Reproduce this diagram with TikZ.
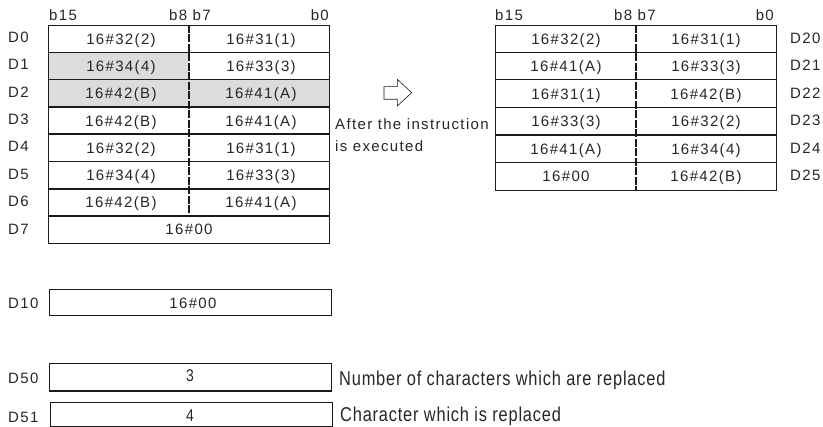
\documentclass[tikz,border=0pt]{standalone}
\usepackage{fontspec}
\setmainfont{Liberation Sans}[LetterSpace=9]
\newfontfamily\narrowfont{Liberation Sans}[FakeStretch=0.82,LetterSpace=4]
\definecolor{txt}{HTML}{262626}
\definecolor{ln}{HTML}{1A1A1A}
\definecolor{cellgray}{HTML}{DCDCDC}
\begin{document}
\begin{tikzpicture}[x=1pt,y=-1pt,
  frame/.style={draw=ln,line width=0.8pt},
  sep/.style={draw=ln,line width=1.5pt},
  divider/.style={draw=ln,line width=1.6pt,dash pattern=on 8pt off 1.5pt},
  celltxt/.style={font=\fontsize{15}{17}\selectfont,text=txt,inner sep=0pt,anchor=base},
  lab/.style={font=\fontsize{15}{17}\selectfont,text=txt,inner sep=0pt,anchor=base west},
  narrowlab/.style={font=\narrowfont\fontsize{20}{22}\selectfont,text=txt,inner sep=0pt,anchor=base west},
  narrowtxt/.style={font=\narrowfont\fontsize{17}{19}\selectfont,text=txt,inner sep=0pt,anchor=base},
  hollow/.style={draw=ln,line width=0.6pt,fill=white,line join=miter}]
\useasboundingbox (0,0) rectangle (823,427);
% ---------- left table ----------
\fill[cellgray] (48.5,52.3) rectangle (189,79.6);
\fill[cellgray] (48.5,79.6) rectangle (329.5,106.9);
\foreach \y in {52.3,79.6,106.9,134.2,161.5,188.8,216.1}
  \draw[sep] (48.5,\y) -- (329.5,\y);
\draw[frame] (48.5,25) rectangle (329.5,243.4);
\draw[divider] (189,25) -- (189,216.1);
\node[lab] (b15L) at (49,21) {b15};
\node[celltxt] (b87L) at (190,21) {b8 b7};
\node[celltxt,anchor=base east] (b0L) at (329,21) {b0};
\foreach \i/\l/\r [count=\k from 0] in {0/16\#32(2)/16\#31(1),1/16\#34(4)/16\#33(3),2/16\#42(B)/16\#41(A),3/16\#42(B)/16\#41(A),4/16\#32(2)/16\#31(1),5/16\#34(4)/16\#33(3),6/16\#42(B)/16\#41(A)}{
  \pgfmathsetmacro{\yc}{25+27.3*\k+13.65+5.5}
  \node[lab] (LD\i) at (8,\yc-1.5) {D\i};
  \node[celltxt] (LL\i) at (121,\yc) {\l};
  \node[celltxt] (LR\i) at (261,\yc) {\r};
}
\node[lab] (LD7) at (8,235) {D7};
\node[celltxt] (LC7) at (189,235) {16\#00};
% ---------- arrow & caption ----------
\draw[hollow] (384,86.7) -- (397.3,86.7) -- (397.3,79.3) -- (411.7,92.7) -- (397.3,106) -- (397.3,99.3) -- (384,99.3) -- cycle;
\node[lab] (cap1) at (335,129.5) {After the instruction};
\node[lab] (cap2) at (335,151.5) {is executed};
% ---------- right table ----------
\foreach \y in {52.7,79.6,107.3,135,162.7}
  \draw[sep] (495,\y) -- (776.7,\y);
\draw[frame] (495,25) rectangle (776.7,190);
\draw[divider] (635.7,25) -- (635.7,190);
\node[lab] (b15R) at (495,21) {b15};
\node[celltxt] (b87R) at (635,21) {b8 b7};
\node[celltxt,anchor=base east] (b0R) at (774,21) {b0};
\foreach \i/\l/\r [count=\k from 0] in {20/16\#32(2)/16\#31(1),21/16\#41(A)/16\#33(3),22/16\#31(1)/16\#42(B),23/16\#33(3)/16\#32(2),24/16\#41(A)/16\#34(4),25/16\#00/16\#42(B)}{
  \pgfmathsetmacro{\yc}{25+27.5*\k+13.75+5.5}
  \node[lab] (RD\i) at (790,\yc-1) {D\i};
  \node[celltxt] (RL\i) at (566,\yc) {\l};
  \node[celltxt] (RR\i) at (706,\yc) {\r};
}
% ---------- bottom registers ----------
\draw[frame] (49.3,289) rectangle (331,315.7);
\node[lab] (D10) at (8,308.5) {D10};
\node[celltxt] (v10) at (193,308.5) {16\#00};
\draw[frame] (49,363) rectangle (331.7,391);
\draw[sep] (49,391) -- (331.7,391);
\node[lab] (D50) at (8,384) {D50};
\node[narrowtxt] (v50) at (190,382) {3};
\node[narrowlab] (t50) at (339,386) {Number of characters which are replaced};
\draw[frame] (50.7,402.5) rectangle (332,426.5);
\node[lab] (D51) at (8,422.5) {D51};
\node[narrowtxt] (v51) at (190,422) {4};
\node[narrowlab] (t51) at (340,421.5) {Character which is replaced};
\end{tikzpicture}
\end{document}
